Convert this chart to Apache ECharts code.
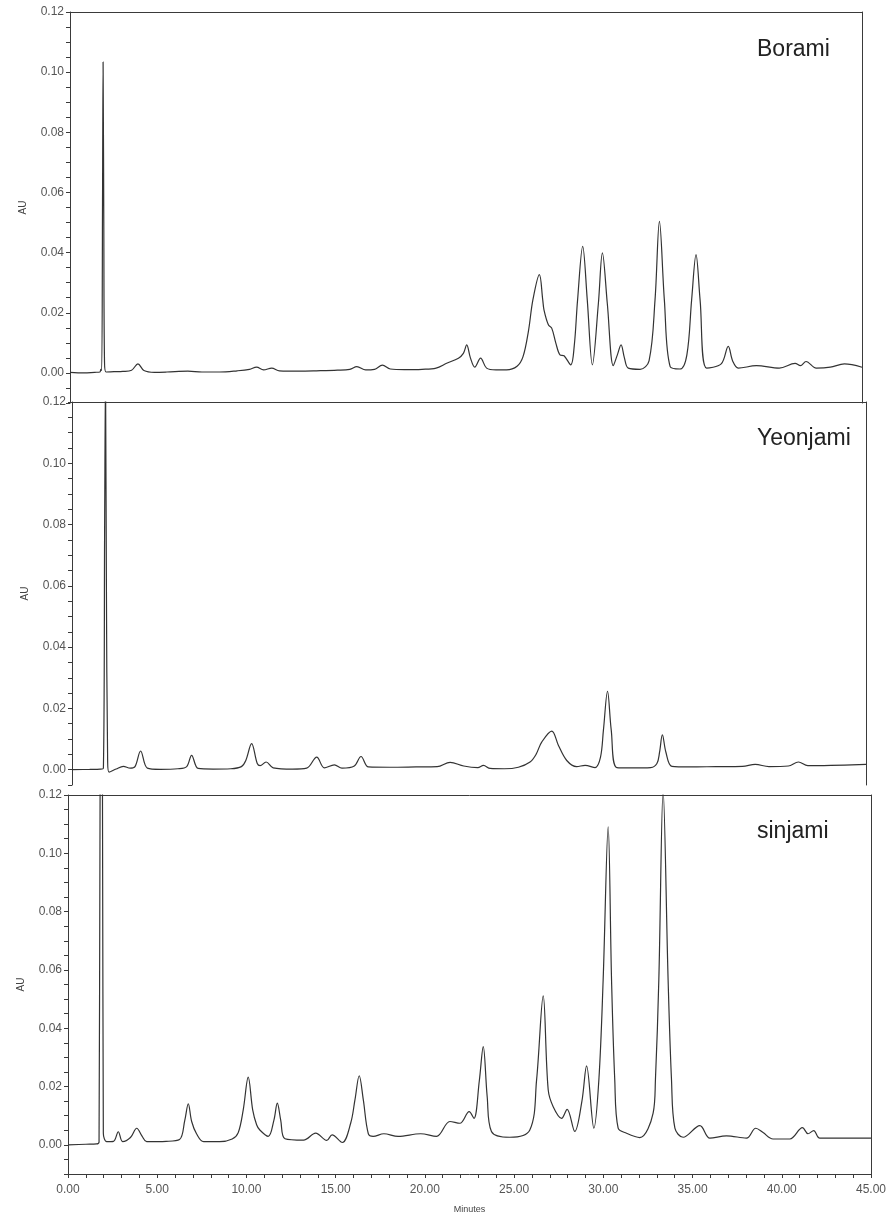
<!DOCTYPE html>
<html>
<head>
<meta charset="utf-8">
<title>Chromatograms</title>
<script src="https://cdn.jsdelivr.net/npm/echarts@6.0.0/dist/echarts.min.js"></script>
<style>
  html, body { margin: 0; padding: 0; background: #fff; }
  #chart { width: 892px; height: 1214px; }
</style>
</head>
<body>
<div id="chart"></div>
<script>
'use strict'

// sample names, one per panel
var sampleNames = ['Borami', 'Yeonjami', 'sinjami'];

// [minutes, AU]
var borami = [
    [0, 0.0002], [0.8, 0.0000], [1.4, 0.0002], [1.7, 0.0003], [1.75, 0.0012], [1.8, 0.0008],
    [1.85, 0.060], [1.88, 0.1034], [1.92, 0.050], [1.96, 0.004], [2.05, 0.0003],
    [2.5, 0.0004], [3.0, 0.0005], [3.5, 0.0009], [3.86, 0.0030], [4.2, 0.0008], [4.8, 0.0002],
    [5.5, 0.0003], [6.7, 0.0006], [7.5, 0.0003], [8.5, 0.0003], [9.5, 0.0007], [10.2, 0.0012],
    [10.6, 0.0019], [11.0, 0.0010], [11.46, 0.0016], [11.9, 0.0007], [13.0, 0.0006], [14.0, 0.0007],
    [15.2, 0.0009], [15.9, 0.0012], [16.3, 0.0021], [16.8, 0.0010], [17.3, 0.0012], [17.75, 0.0026],
    [18.2, 0.0013], [19.0, 0.0011], [20.0, 0.0012], [20.8, 0.0016], [21.4, 0.0032], [22.07, 0.0049],
    [22.35, 0.0065], [22.54, 0.0093], [22.75, 0.0050], [23.0, 0.0019], [23.33, 0.0049], [23.67, 0.0016],
    [24.2, 0.0010], [24.8, 0.0010], [25.4, 0.0022], [25.74, 0.0054], [26.05, 0.0140], [26.3, 0.0243],
    [26.67, 0.0327], [26.86, 0.0243], [26.93, 0.0210], [27.18, 0.0160], [27.37, 0.0149], [27.6, 0.0100],
    [27.84, 0.0060], [28.07, 0.0057], [28.45, 0.0027], [28.65, 0.0090], [28.84, 0.0243], [29.13, 0.0421],
    [29.39, 0.0243], [29.68, 0.0027], [30.02, 0.0230], [30.25, 0.0399], [30.53, 0.0230], [30.87, 0.0024],
    [31.1, 0.0060], [31.31, 0.0093], [31.5, 0.0050], [31.72, 0.0016], [32.39, 0.0012], [32.9, 0.0040],
    [33.24, 0.0243], [33.49, 0.0504], [33.77, 0.0243], [34.1, 0.0021], [34.66, 0.0013], [35.05, 0.0060],
    [35.32, 0.0243], [35.57, 0.0393], [35.8, 0.0243], [36.17, 0.0016], [37.0, 0.0030], [37.4, 0.0088],
    [37.65, 0.0040], [37.97, 0.0016], [39.0, 0.0024], [40.3, 0.0016], [41.2, 0.0032], [41.5, 0.0024],
    [41.82, 0.0038], [42.4, 0.0016], [43.2, 0.0019], [44.0, 0.0030], [45.0, 0.0019]
];

var yeonjami = [
    [0, 0.0000], [1.0, 0.0001], [1.6, 0.0002], [1.78, 0.0005], [1.85, 0.080], [1.9, 0.130],
    [1.95, 0.060], [2.02, 0.003], [2.1, -0.0008], [2.5, 0.0002], [2.91, 0.0011], [3.3, 0.0005],
    [3.57, 0.0010], [3.89, 0.0061], [4.27, 0.0005], [5.0, 0.0001], [6.0, 0.0003], [6.5, 0.0010],
    [6.78, 0.0047], [7.15, 0.0004], [8.0, 0.0002], [9.0, 0.0003], [9.6, 0.0010], [9.85, 0.0030],
    [10.18, 0.0085], [10.5, 0.0020], [10.66, 0.0013], [11.0, 0.0025], [11.4, 0.0006], [12.5, 0.0002],
    [13.3, 0.0005], [13.87, 0.0041], [14.3, 0.0006], [14.87, 0.0016], [15.3, 0.0005], [16.0, 0.0012],
    [16.38, 0.0043], [16.8, 0.0009], [18.0, 0.0008], [19.5, 0.0009], [20.7, 0.0010], [21.43, 0.0024],
    [22.2, 0.0012], [23.0, 0.0007], [23.32, 0.0014], [23.7, 0.0004], [24.5, 0.0003], [25.3, 0.0008],
    [25.96, 0.0025], [26.3, 0.0050], [26.62, 0.0090], [27.19, 0.0126], [27.57, 0.0079], [28.04, 0.0030],
    [28.6, 0.0010], [29.08, 0.0014], [29.65, 0.0007], [29.95, 0.0040], [30.12, 0.0130], [30.35, 0.0256],
    [30.56, 0.0130], [30.88, 0.0007], [31.8, 0.0006], [32.8, 0.0007], [33.15, 0.0020], [33.3, 0.0057],
    [33.46, 0.0114], [33.66, 0.0057], [34.0, 0.0011], [35.0, 0.0009], [36.5, 0.0010], [38.0, 0.0011],
    [38.72, 0.0017], [39.5, 0.0010], [40.6, 0.0012], [41.17, 0.0025], [41.7, 0.0013], [43.0, 0.0014],
    [45.0, 0.0017]
];

var sinjami = [
    [0, 0.0000], [1.0, 0.0002], [1.6, 0.0003], [1.74, 0.0010], [1.8, 0.125], [1.93, 0.125],
    [1.98, 0.0040], [2.17, 0.0011], [2.55, 0.0012], [2.82, 0.0045], [3.06, 0.0011], [3.5, 0.0025],
    [3.85, 0.0057], [4.15, 0.0030], [4.41, 0.0011], [5.5, 0.0012], [6.25, 0.0018], [6.55, 0.0086],
    [6.74, 0.0141], [6.93, 0.0080], [7.21, 0.0037], [7.6, 0.0011], [8.5, 0.0011], [9.2, 0.0020],
    [9.54, 0.0042], [9.82, 0.0120], [10.1, 0.0232], [10.35, 0.0120], [10.57, 0.0069], [10.75, 0.0051],
    [11.22, 0.0029], [11.54, 0.0085], [11.73, 0.0143], [11.92, 0.0085], [12.16, 0.0021], [13.2, 0.0016],
    [13.88, 0.0040], [14.5, 0.0015], [14.8, 0.0034], [15.37, 0.0008], [15.84, 0.0074], [16.08, 0.0154],
    [16.32, 0.0237], [16.55, 0.0154], [16.83, 0.0038], [17.1, 0.0029], [17.7, 0.0038], [18.5, 0.0029],
    [19.76, 0.0038], [20.65, 0.0029], [21.4, 0.0080], [21.96, 0.0074], [22.48, 0.0114], [22.75, 0.0091],
    [23.05, 0.0220], [23.27, 0.0337], [23.49, 0.0166], [23.73, 0.0046], [24.76, 0.0026], [25.88, 0.0051],
    [26.26, 0.0223], [26.63, 0.0511], [26.91, 0.0189], [27.19, 0.0131], [27.66, 0.0091], [27.97, 0.0122],
    [28.4, 0.0046], [28.8, 0.0150], [29.06, 0.0271], [29.47, 0.0057], [29.75, 0.0223], [29.99, 0.0566],
    [30.27, 0.1091], [30.46, 0.0566], [30.64, 0.0223], [30.83, 0.0057], [31.3, 0.0040], [32.04, 0.0025],
    [32.79, 0.0109], [32.92, 0.0223], [33.11, 0.0566], [33.35, 0.1215], [33.63, 0.0566], [33.82, 0.0223],
    [34.01, 0.0057], [34.47, 0.0026], [35.41, 0.0066], [35.97, 0.0023], [36.9, 0.0031], [38.02, 0.0023],
    [38.54, 0.0057], [38.95, 0.0042], [39.51, 0.0020], [40.45, 0.0020], [41.16, 0.0059], [41.47, 0.0038],
    [41.79, 0.0049], [42.13, 0.0023], [45.0, 0.0023]
];

var traces = [borami, yeonjami, sinjami];
var yMins = [-0.01, -0.005, -0.01];
var yMax = 0.12;

// panel boxes in pixels (the scanned panels are slightly skewed)
var panels = [
    { left: 70, top: 12, width: 792, height: 391 },
    { left: 72, top: 402, width: 794, height: 383 },
    { left: 68, top: 795, width: 803, height: 379 }
];
var titleTops = [38, 427, 820];

var axisColor = '#3a3a3a';
var labelColor = '#555';
var fontName = 'Liberation Sans, Arial, sans-serif';

function yLabel(v) {
    var k = v / 0.02;
    if (v > -1e-9 && Math.abs(k - Math.round(k)) < 1e-6) {
        return (Math.round(k) * 0.02).toFixed(2);
    }
    return '';
}

function xLabel(v) {
    var r = Math.round(v);
    return (Math.abs(v - r) < 1e-6 && r % 5 === 0) ? r.toFixed(2) : '';
}

var grids = [], xAxes = [], yAxes = [], series = [], titles = [];

for (var i = 0; i < 3; i++) {
    var p = panels[i];
    var last = (i === 2);
    grids.push({ left: p.left, top: p.top, width: p.width, height: p.height, outerBoundsMode: 'none' });

    // bottom time axis (only the last panel shows it)
    xAxes.push({
        gridIndex: i, type: 'value', min: 0, max: 45, interval: 1, position: 'bottom',
        show: last,
        axisLine: { show: true, onZero: false, lineStyle: { color: axisColor, width: 1 } },
        axisTick: { show: true, length: 4, lineStyle: { color: axisColor } },
        axisLabel: { formatter: xLabel, color: labelColor, fontSize: 12, fontFamily: fontName, margin: 10 },
        splitLine: { show: false },
        name: last ? 'Minutes' : '', nameLocation: 'middle', nameGap: 31,
        nameTextStyle: { color: '#444', fontSize: 9, fontFamily: fontName }
    });
    // top frame line
    xAxes.push({
        gridIndex: i, type: 'value', min: 0, max: 45, position: 'top',
        axisLine: { show: true, onZero: false, lineStyle: { color: axisColor, width: 1 } },
        axisTick: { show: false }, axisLabel: { show: false }, splitLine: { show: false }
    });

    yAxes.push({
        gridIndex: i, type: 'value', min: yMins[i], max: yMax, interval: 0.005, position: 'left',
        axisLine: { show: true, onZero: false, lineStyle: { color: axisColor, width: 1 } },
        axisTick: { show: true, length: 4, lineStyle: { color: axisColor } },
        axisLabel: { formatter: yLabel, color: labelColor, fontSize: 12, fontFamily: fontName, margin: 6 },
        splitLine: { show: false },
        name: 'AU', nameLocation: 'middle', nameGap: 42,
        nameTextStyle: { color: '#444', fontSize: 10, fontFamily: fontName }
    });
    // right frame line
    yAxes.push({
        gridIndex: i, type: 'value', min: yMins[i], max: yMax, position: 'right',
        axisLine: { show: true, onZero: false, lineStyle: { color: axisColor, width: 1 } },
        axisTick: { show: false }, axisLabel: { show: false }, splitLine: { show: false }
    });

    series.push({
        name: sampleNames[i],
        type: 'line',
        xAxisIndex: i * 2,
        yAxisIndex: i * 2,
        data: traces[i],
        smooth: 0.35,
        symbol: 'none',
        clip: true,
        lineStyle: { color: '#333', width: 1.2 }
    });

    titles.push({
        text: sampleNames[i],
        left: 757,
        top: titleTops[i],
        padding: 0,
        textStyle: { fontSize: 23, fontWeight: 'normal', color: '#222', fontFamily: fontName }
    });
}

var myChart = echarts.init(document.getElementById('chart'), null, { renderer: 'canvas' });
var option = {
    backgroundColor: '#fff',
    animation: false,
    title: titles,
    grid: grids,
    xAxis: xAxes,
    yAxis: yAxes,
    series: series
};
myChart.setOption(option);
</script>
</body>
</html>
